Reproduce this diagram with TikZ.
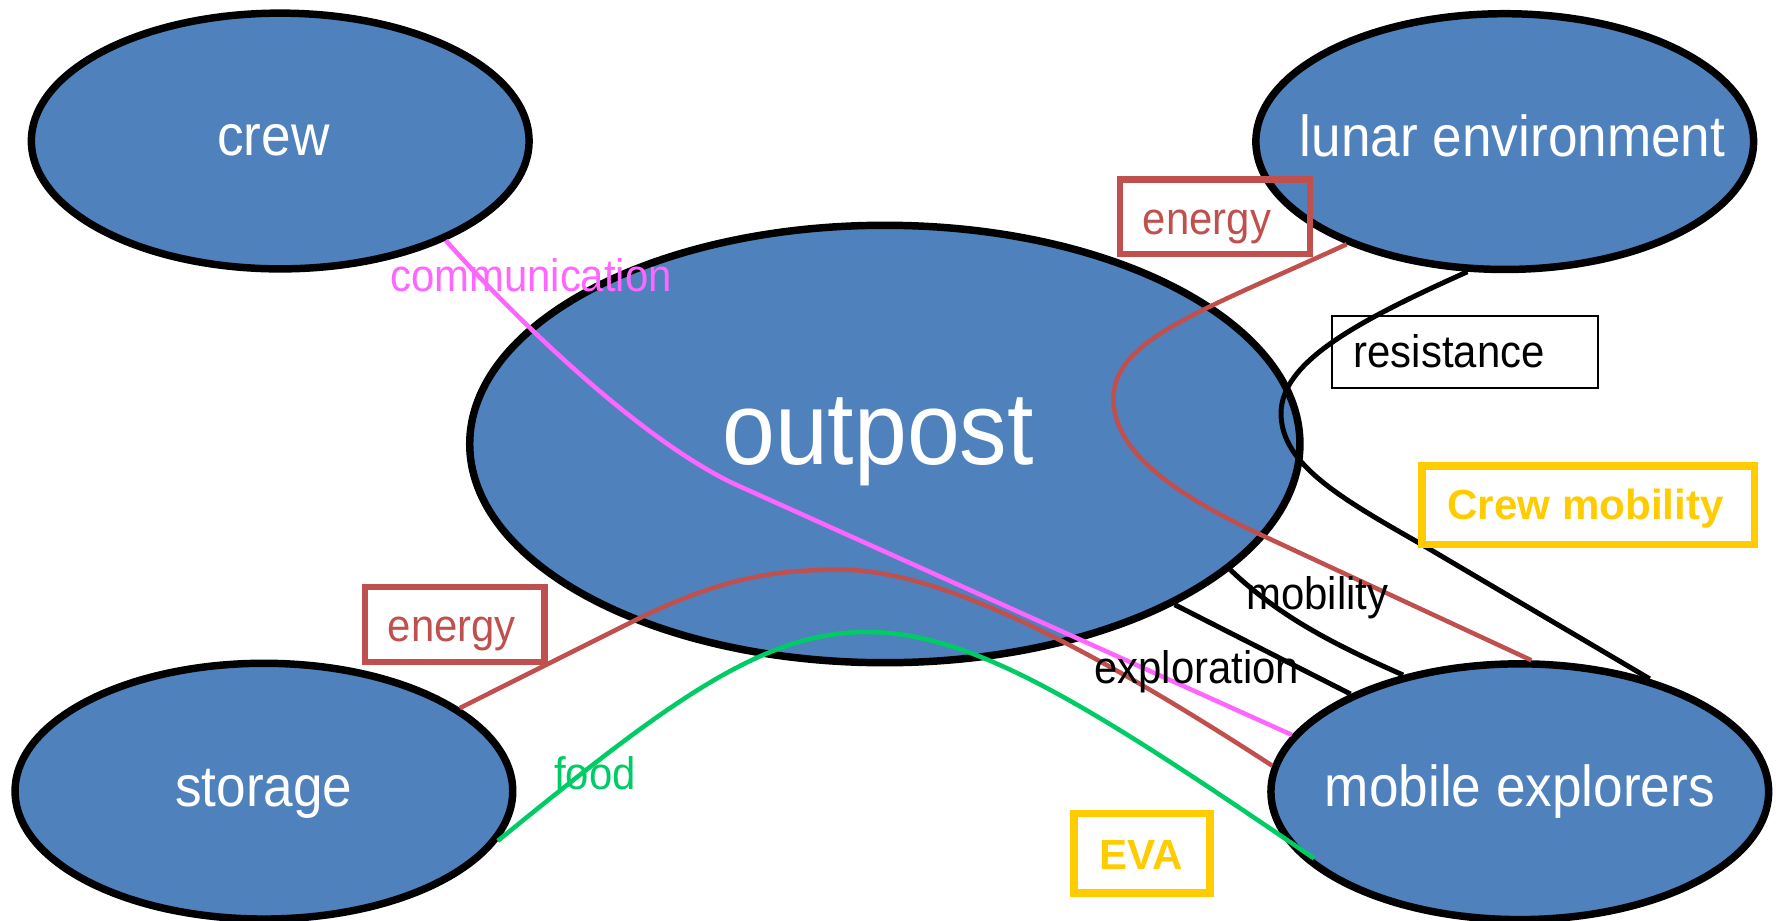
\documentclass[tikz,border=0pt]{standalone}
\usepackage{fontspec}
\setmainfont{Liberation Sans}[FakeStretch=0.92]
\newfontfamily\boldsans{Liberation Sans}[BoldFont={Liberation Sans Bold}]
\usetikzlibrary{shapes.geometric,calc}
\definecolor{nodeblue}{HTML}{4F81BD}
\definecolor{enred}{HTML}{C0504D}
\definecolor{compink}{HTML}{FF66FF}
\definecolor{foodgreen}{HTML}{00CC66}
\definecolor{labelgold}{HTML}{FFCC00}
\begin{document}
\begin{tikzpicture}[x=0.5pt,y=-0.5pt,
  blob/.style={ellipse, draw=black, line width=3.3pt, fill=nodeblue, text=white,
    minimum width=219.7pt, minimum height=112.9pt, inner sep=0pt,
    text height=13.2pt, text depth=0pt, font=\fontsize{25.5}{28}\selectfont},
  conn/.style={line width=2pt},
  blackconn/.style={line width=2.2pt, draw=black},
  lbl/.style={inner sep=0pt, anchor=base, font=\fontsize{20.1}{22}\selectfont},
  boldlbl/.style={inner sep=0pt, anchor=base, text=labelgold, font=\boldsans\bfseries\fontsize{18.6}{20}\selectfont},
  redbox/.style={draw=enred, line width=2.8pt, inner sep=0pt},
  goldbox/.style={draw=labelgold, line width=3.3pt, inner sep=0pt},
  thinbox/.style={draw=black, line width=0.8pt, inner sep=0pt},
]
\useasboundingbox (0,0) rectangle (1568,813);

% ellipses
\node[blob] (crew) at (247.4,124.5) {\makebox[0pt]{\hspace*{-6pt}crew}};
\node[blob] (lunar) at (1328.5,125) {\makebox[0pt]{\hspace*{7pt}lunar environment}};
\node[blob, minimum width=366.5pt, minimum height=193.1pt, text height=23.7pt, text depth=6pt,
  font=\fontsize{45.6}{50}\selectfont] (outpost) at (781.2,392) {\makebox[0pt]{\hspace*{-6pt}outpost}};
\node[blob] (storage) at (233,698.5) {\makebox[0pt]{storage}};
\node[blob] (explorers) at (1341.8,699) {\makebox[0pt]{mobile explorers}};

% connectors
\draw[conn, compink] (crew.-31) .. controls (463,290) and (570,391) .. (650,428) -- (explorers.166.75);
\draw[conn, enred] (lunar.213.4) .. controls (1060,275) and (983,300) .. (983,352)
   .. controls (983,400) and (1040,438) .. (1115,473) -- (explorers.85);
\draw[conn, enred] (storage.23) -- (560,548) .. controls (640,508) and (690,503) .. (742,503)
   .. controls (830,503) and (960,570) .. (explorers.174.7);
\draw[conn, foodgreen] (storage.-12) .. controls (744,494) and (774,494) .. ($(explorers.198)+(3.8pt,1.3pt)$);
\draw[blackconn] (lunar.254.3) .. controls (1197,284) and (1131,320) .. (1131,365)
   .. controls (1131,410) and (1184,440) .. (1254,480) -- (explorers.41);
\draw[blackconn] (outpost.-20.75) .. controls (1130,545) and (1180,570) .. (explorers.135);
\draw[blackconn] (outpost.-29.6) -- (explorers.150);

% boxes
\node[redbox, minimum width=83.75pt, minimum height=32.85pt] (etopbox) at (1072.65,191.25) {};
\node[redbox, minimum width=79.4pt, minimum height=32.9pt] (ebotbox) at (401.4,551.3) {};
\node[thinbox, minimum width=117.55pt, minimum height=31.6pt] (resbox) at (1293.35,310.6) {};
\node[goldbox, minimum width=146.75pt, minimum height=34.6pt] (crewmobbox) at (1402.25,446.1) {};
\node[goldbox, minimum width=60pt, minimum height=35pt] (evabox) at (1008.35,753.3) {};

% labels
\node[lbl, text=compink] (comm) at (468.8,257.4) {communication};
\node[lbl, text=enred] (etop) at (1065.6,206.8) {energy};
\node[lbl, text=enred] (ebot) at (398.9,566.8) {energy};
\node[lbl, anchor=base west] (res) at (1194.7,324.5) {resistance};
\node[lbl] (mob) at (1163,538.2) {mobility};
\node[lbl] (expl) at (1056.5,603.3) {exploration};
\node[lbl, text=foodgreen] (food) at (525.4,696.8) {food};
\node[boldlbl] (crewmob) at (1399.8,459) {Crew mobility};
\node[boldlbl] (eva) at (1007.8,768) {EVA};
\end{tikzpicture}
\end{document}
